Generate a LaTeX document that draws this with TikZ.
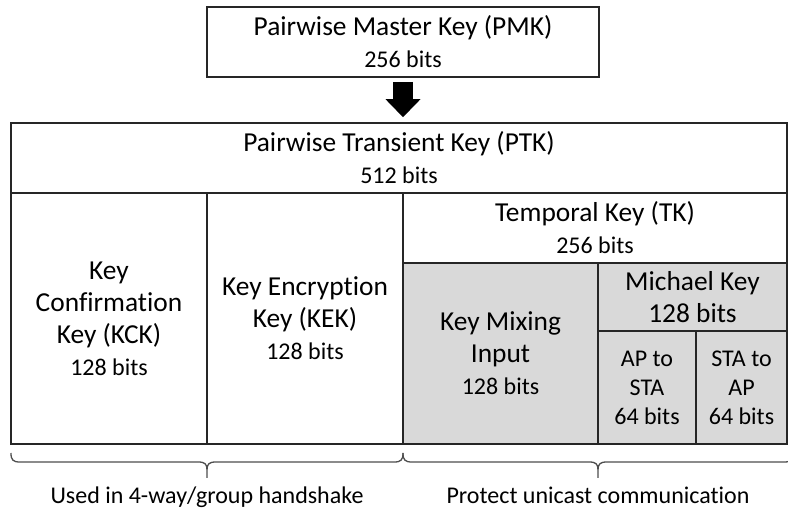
\documentclass[tikz,border=0pt]{standalone}
\usepackage{fontspec}
\setmainfont[Ligatures=NoCommon]{Carlito}
\usetikzlibrary{arrows.meta}

\definecolor{cellgray}{HTML}{D9D9D9}
\definecolor{rule}{HTML}{262626}
\definecolor{bracegray}{HTML}{4D4D4D}

\newcommand{\bigtxt}{\fontsize{27.4}{32}\selectfont}
\newcommand{\smalltxt}{\fontsize{24}{29}\selectfont}

\tikzset{
  cell/.style={draw=rule, line width=1.6pt, rectangle, inner sep=0pt,
               align=center, font=\bigtxt},
  shaded/.style={cell, fill=cellgray},
  note/.style={font=\smalltxt, anchor=base, inner sep=0pt},
  bracepath/.style={draw=bracegray, line width=1.3pt, line join=round},
  blockarrow/.style={line width=20pt, draw=black,
    -{Triangle[width=35pt, length=18pt, line width=0pt 0 0]}}
}

\begin{document}
\begin{tikzpicture}[x=1pt, y=-1pt]
  \useasboundingbox (0,0) rectangle (788,510);
  \clip (0,0) rectangle (788,510);

  % master key
  \node[cell, minimum width=392pt, minimum height=70pt] (pmk) at (403,42)
    {Pairwise Master Key (PMK)\\{\smalltxt 256 bits}};

  % transient key header
  \node[cell, minimum width=776pt, minimum height=70pt] (ptk) at (399,158)
    {Pairwise Transient Key (PTK)\\{\smalltxt 512 bits}};

  % key derivation arrow
  \draw[blockarrow, shorten <=4pt, shorten >=5pt]
    (pmk.south) -- (pmk.south |- ptk.north);

  % handshake keys
  \node[cell, minimum width=196pt, minimum height=251pt] (kck) at (109,318.5)
    {Key\\Confirmation\\Key (KCK)\\{\smalltxt 128 bits}};
  \node[cell, minimum width=196pt, minimum height=251pt] (kek) at (305,318.5)
    {Key Encryption\\Key (KEK)\\{\smalltxt 128 bits}};

  % temporal key and its parts
  \node[cell, minimum width=384pt, minimum height=70pt] (tk) at (595,228)
    {Temporal Key (TK)\\{\smalltxt 256 bits}};
  \node[shaded, minimum width=195pt, minimum height=181pt] (kmi) at (500.5,353.5)
    {Key Mixing\\Input\\{\smalltxt 128 bits}};
  \node[shaded, minimum width=189pt, minimum height=68pt] (mic) at (692.5,297)
    {Michael Key\\128 bits};
  \node[shaded, minimum width=98pt, minimum height=113pt, font=\smalltxt] (ap) at (647,387.5)
    {AP to\\STA\\64 bits};
  \node[shaded, minimum width=91pt, minimum height=113pt, font=\smalltxt] (sta) at (741.5,387.5)
    {STA to\\AP\\64 bits};

  % braces under the key groups
  \draw[bracepath]
    (11,453) .. controls (11,460) and (13,462) .. (20,462) -- (198,462)
    .. controls (205,462) and (207,464) .. (207,470) -- (207,478)
    (207,470) .. controls (207,464) and (209,462) .. (216,462) -- (394,462)
    .. controls (401,462) and (403,460) .. (403,453);
  \draw[bracepath]
    (403,453) .. controls (403,460) and (405,462) .. (412,462) -- (589,462)
    .. controls (596,462) and (598,464) .. (598,470) -- (598,478)
    (598,470) .. controls (598,464) and (600,462) .. (607,462) -- (784,462)
    .. controls (791,462) and (793,460) .. (793,453);

  \node[note] (use) at (207,504) {Used in 4-way/group handshake};
  \node[note] (prot) at (598,504) {Protect unicast communication};
\end{tikzpicture}
\end{document}
